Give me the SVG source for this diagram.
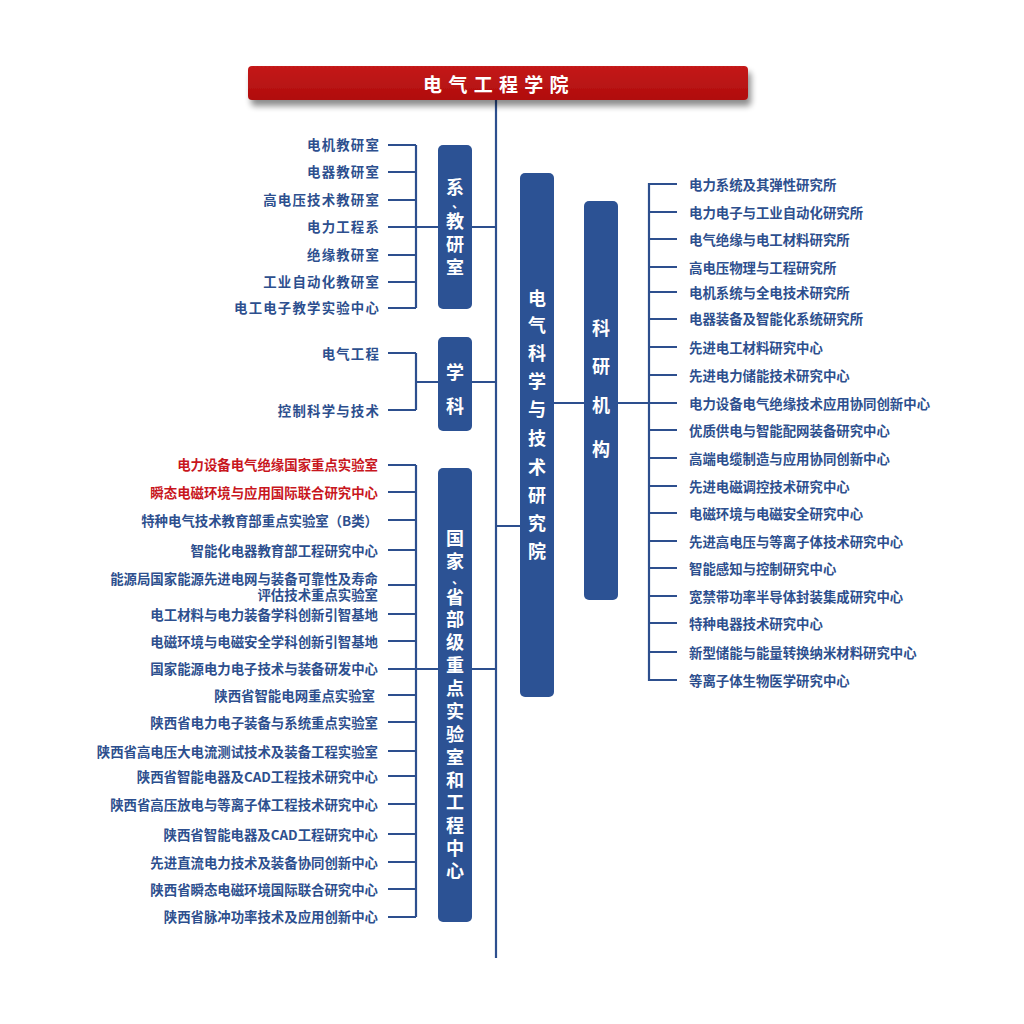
<svg xmlns="http://www.w3.org/2000/svg" width="1024" height="1024" viewBox="0 0 1024 1024">
<defs>
<linearGradient id="hdr" x1="0" y1="0" x2="0" y2="1">
<stop offset="0" stop-color="#c41a1a"/>
<stop offset="1" stop-color="#b00d0d"/>
</linearGradient>
<filter id="sh" x="-5%" y="-30%" width="110%" height="190%">
<feGaussianBlur in="SourceAlpha" stdDeviation="3"/>
<feOffset dx="3" dy="6"/>
<feComponentTransfer><feFuncA type="linear" slope="0.45"/></feComponentTransfer>
<feMerge><feMergeNode/><feMergeNode in="SourceGraphic"/></feMerge>
</filter>
</defs>
<style>
text{font-family:"Noto Sans CJK SC","Noto Sans",sans-serif;font-weight:bold;dominant-baseline:central}
.it{font-size:13.4px;fill:#2d4f8e}
.top{letter-spacing:1.2px}
.red{fill:#c8161d}
.l{text-anchor:end}
.box{fill:#2c5294}
.bt{font-size:18px;fill:#ffffff;text-anchor:middle}
.dun{font-size:12px}
.ln{stroke:#2d4f8e;stroke-width:2.2;fill:none}
</style>
<rect width="1024" height="1024" fill="#ffffff"/>

<g id="connectors" class="ln">
<path d="M496 100V958"/>
<path d="M388 145H416M388 172H416M388 200H416M388 227H416M388 255H416M388 282H416M388 308H416M416 145V308M416 227H438M472 227H496"/>
<path d="M388 353H416M388 410H416M416 353V410M416 382H438M472 382H496"/>
<path d="M388 465H416M388 492H416M388 520H416M388 550H416M388 585H416M388 614H416M388 641H416M388 669H416M388 695H416M388 722H416M388 751H416M388 776H416M388 804H416M388 834H416M388 862H416M388 889H416M388 917H416M416 465V917M416 669H438M472 669H496"/>
<path d="M496 526H520M554 403H584M618 403H649"/>
<path d="M649 183V681M649 184H677M649 212H677M649 239H677M649 267H677M649 292H677M649 319H677M649 347H677M649 375H677M649 403H677M649 430H677M649 458H677M649 486H677M649 513H677M649 541H677M649 568H677M649 596H677M649 623H677M649 652H677M649 680H677"/>
</g>

<g id="header">
<rect x="248" y="66" width="500" height="34" rx="4" fill="url(#hdr)" filter="url(#sh)"/>
<text x="499" y="83" fill="#ffffff" font-size="19" text-anchor="middle" letter-spacing="6.3">电气工程学院</text>
</g>

<g id="box-xijiaoyanshi">
<rect class="box" x="438" y="145" width="34" height="164" rx="5"/>
<text class="bt"><tspan x="455" y="186">系</tspan><tspan class="dun" x="458" y="202">、</tspan><tspan x="455" y="220">教</tspan><tspan x="455" y="243">研</tspan><tspan x="455" y="266">室</tspan></text>
</g>
<g id="list-xijiaoyanshi" class="it l top">
<text x="380" y="144">电机教研室</text>
<text x="380" y="171">电器教研室</text>
<text x="380" y="199">高电压技术教研室</text>
<text x="380" y="226">电力工程系</text>
<text x="380" y="254">绝缘教研室</text>
<text x="380" y="281">工业自动化教研室</text>
<text x="380" y="307">电工电子教学实验中心</text>
</g>

<g id="box-xueke">
<rect class="box" x="438" y="337" width="34" height="94" rx="5"/>
<text class="bt"><tspan x="455" y="371">学</tspan><tspan x="455" y="405">科</tspan></text>
</g>
<g id="list-xueke" class="it l top">
<text x="380" y="353">电气工程</text>
<text x="380" y="410">控制科学与技术</text>
</g>

<g id="box-guojia">
<rect class="box" x="438" y="468" width="34" height="454" rx="5"/>
<text class="bt"><tspan x="455" y="537">国</tspan><tspan x="455" y="560">家</tspan><tspan class="dun" x="458" y="578">、</tspan><tspan x="455" y="596">省</tspan><tspan x="455" y="618">部</tspan><tspan x="455" y="641">级</tspan><tspan x="455" y="664">重</tspan><tspan x="455" y="687">点</tspan><tspan x="455" y="710">实</tspan><tspan x="455" y="733">验</tspan><tspan x="455" y="756">室</tspan><tspan x="455" y="779">和</tspan><tspan x="455" y="801">工</tspan><tspan x="455" y="824">程</tspan><tspan x="455" y="847">中</tspan><tspan x="455" y="870">心</tspan></text>
</g>
<g id="list-guojia" class="it l">
<text class="red" x="378" y="464">电力设备电气绝缘国家重点实验室</text>
<text class="red" x="378" y="492">瞬态电磁环境与应用国际联合研究中心</text>
<text x="378" y="520">特种电气技术教育部重点实验室（B类）</text>
<text x="378" y="550">智能化电器教育部工程研究中心</text>
<text><tspan x="378" y="578">能源局国家能源先进电网与装备可靠性及寿命</tspan><tspan x="378" y="594">评估技术重点实验室</tspan></text>
<text x="378" y="614">电工材料与电力装备学科创新引智基地</text>
<text x="378" y="641">电磁环境与电磁安全学科创新引智基地</text>
<text x="378" y="668">国家能源电力电子技术与装备研发中心</text>
<text x="375" y="695">陕西省智能电网重点实验室</text>
<text x="378" y="722">陕西省电力电子装备与系统重点实验室</text>
<text x="378" y="751">陕西省高电压大电流测试技术及装备工程实验室</text>
<text x="378" y="776">陕西省智能电器及CAD工程技术研究中心</text>
<text x="378" y="804">陕西省高压放电与等离子体工程技术研究中心</text>
<text x="378" y="834">陕西省智能电器及CAD工程研究中心</text>
<text x="378" y="862">先进直流电力技术及装备协同创新中心</text>
<text x="378" y="889">陕西省瞬态电磁环境国际联合研究中心</text>
<text x="378" y="916">陕西省脉冲功率技术及应用创新中心</text>
</g>

<g id="box-yanjiuyuan">
<rect class="box" x="520" y="173" width="34" height="524" rx="5"/>
<text class="bt"><tspan x="537" y="297">电</tspan><tspan x="537" y="324">气</tspan><tspan x="537" y="352">科</tspan><tspan x="537" y="380">学</tspan><tspan x="537" y="408">与</tspan><tspan x="537" y="437">技</tspan><tspan x="537" y="466">术</tspan><tspan x="537" y="494">研</tspan><tspan x="537" y="522">究</tspan><tspan x="537" y="550">院</tspan></text>
</g>

<g id="box-keyanjigou">
<rect class="box" x="584" y="201" width="34" height="399" rx="5"/>
<text class="bt"><tspan x="601" y="327">科</tspan><tspan x="601" y="365">研</tspan><tspan x="601" y="404">机</tspan><tspan x="601" y="448">构</tspan></text>
</g>
<g id="list-keyanjigou" class="it">
<text x="689" y="184">电力系统及其弹性研究所</text>
<text x="689" y="212">电力电子与工业自动化研究所</text>
<text x="689" y="239">电气绝缘与电工材料研究所</text>
<text x="689" y="267">高电压物理与工程研究所</text>
<text x="689" y="292">电机系统与全电技术研究所</text>
<text x="689" y="318">电器装备及智能化系统研究所</text>
<text x="689" y="347">先进电工材料研究中心</text>
<text x="689" y="375">先进电力储能技术研究中心</text>
<text x="689" y="403">电力设备电气绝缘技术应用协同创新中心</text>
<text x="689" y="430">优质供电与智能配网装备研究中心</text>
<text x="689" y="458">高端电缆制造与应用协同创新中心</text>
<text x="689" y="486">先进电磁调控技术研究中心</text>
<text x="689" y="513">电磁环境与电磁安全研究中心</text>
<text x="689" y="541">先进高电压与等离子体技术研究中心</text>
<text x="689" y="568">智能感知与控制研究中心</text>
<text x="689" y="596">宽禁带功率半导体封装集成研究中心</text>
<text x="689" y="623">特种电器技术研究中心</text>
<text x="689" y="652">新型储能与能量转换纳米材料研究中心</text>
<text x="689" y="680">等离子体生物医学研究中心</text>
</g>
</svg>
